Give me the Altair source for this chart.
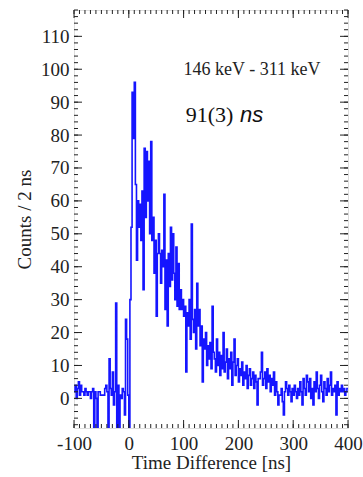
import altair as alt
import pandas as pd

# Time-difference histogram, 2 ns bins from -100 ns to 400 ns
bin_width = 2
t_start = -100
counts = [
    # -100 .. -2 ns
    2, 4, 0, 3, 5, 1, 4, 2, 2, 1,
    3, 2, 1, 2, 2, 0, 2, 3, -10, 2,
    0, -10, 2, 2, 1, 1, 1, 1, 3, 4,
    2, -10, 12, 3, 1, 8, -2, 2, 29, -10,
    4, -10, 1, 0, 3, 2, -5, 24, 18, 1,
    # 0 .. 398 ns
    -10, 30, 52, 93, 79, 96, 65, 42, 60, 52,
    59, 48, 63, 33, 76, 55, 75, 60, 72, 50,
    78, 48, 55, 38, 48, 25, 44, 50, 44, 35,
    45, 40, 62, 27, 42, 22, 44, 34, 52, 36,
    50, 38, 30, 46, 28, 41, 27, 33, 27, 30,
    25, 28, 8, 26, 22, 30, 18, 53, 24, 20,
    27, 15, 35, 22, 27, 16, 22, 5, 18, 15,
    20, 10, 16, 12, 17, 9, 28, 14, 12, 8,
    18, 10, 14, 7, 13, 9, 20, 8, 11, 15,
    6, 12, 9, 14, 4, 11, 18, 7, 10, 12,
    5, 9, 7, 11, 4, 8, 6, 10, 3, 7,
    9, 4, 6, 8, 3, 7, 5, -2, 6, 6,
    8, 14, 4, 6, 8, 3, 9, 5, 7, 2,
    6, 4, 8, 1, 5, 2, -2, 1, 1, 3,
    -1, -5, 2, 5, 3, 1, 4, 2, -1, 3,
    1, 4, 2, 0, 3, 1, 5, 2, -2, 6,
    3, 1, 7, 5, 2, 6, 0, 3, -2, 5,
    2, 8, 3, 0, 4, 7, 2, -1, 5, 3,
    1, 6, 2, 4, 8, 1, 3, 2, 4, -5,
    5, 1, 3, 2, 4, 2, 3, 1, 2, 3,
]

x_major = [-100, 0, 100, 200, 300, 400]
y_major = [0, 10, 20, 30, 40, 50, 60, 70, 80, 90, 100, 110]
x_minor = list(range(-100, 401, 10))
y_minor = list(range(-8, 119, 2))

x_domain = [-100, 400]
y_domain = [-9, 118]

W, H = 274, 418
FONT = "Liberation Serif"
BLUE = "#1515ff"
INK = "#222222"

edges = [t_start + i * bin_width for i in range(len(counts))]
hist = pd.DataFrame({"t": edges + [edges[-1] + bin_width],
                     "c": counts + [counts[-1]]})

xs = alt.Scale(domain=x_domain, nice=False, zero=False)
ys = alt.Scale(domain=y_domain, nice=False, zero=False)

x_axis = alt.Axis(values=x_major, ticks=False, domain=False, grid=False,
                  labelExpr="datum.value + ''",
                  labelFont=FONT, labelFontSize=19, labelColor=INK,
                  labelPadding=6, labelFlush=False,
                  titleFont=FONT, titleFontSize=19, titleFontWeight="normal",
                  titleColor=INK, titleY=40, titleBaseline="alphabetic")
y_axis = alt.Axis(values=y_major, ticks=False, domain=False, grid=False,
                  labelExpr="datum.value + ''",
                  labelFont=FONT, labelFontSize=19, labelColor=INK,
                  labelPadding=5,
                  titleFont=FONT, titleFontSize=19, titleFontWeight="normal",
                  titleColor=INK, titleX=-50, titleY=H / 2,
                  titleAngle=-90, titleAlign="center", titleBaseline="middle")

X_TITLE = "Time Difference [ns]"
Y_TITLE = "Counts / 2 ns"

def xenc():
    return alt.X("t:Q", scale=xs, title=X_TITLE, axis=x_axis)

def yenc():
    return alt.Y("c:Q", scale=ys, title=Y_TITLE, axis=y_axis)

line = alt.Chart(hist).mark_line(
    interpolate="step-after", color=BLUE, strokeWidth=1.6, clip=True
).encode(x=xenc(), y=yenc())

# inward frame ticks on all four sides
def xticks(vals, length):
    d = pd.DataFrame({"t": vals})
    bot = alt.Chart(d).mark_rule(color=INK, strokeWidth=1).encode(
        x=xenc(), y=alt.value(H), y2=alt.value(H - length))
    top = alt.Chart(d).mark_rule(color=INK, strokeWidth=1).encode(
        x=xenc(), y=alt.value(0), y2=alt.value(length))
    return [bot, top]

def yticks(vals, length):
    d = pd.DataFrame({"c": vals})
    lft = alt.Chart(d).mark_rule(color=INK, strokeWidth=1).encode(
        y=yenc(), x=alt.value(0), x2=alt.value(length))
    rgt = alt.Chart(d).mark_rule(color=INK, strokeWidth=1).encode(
        y=yenc(), x=alt.value(W), x2=alt.value(W - length))
    return [lft, rgt]

ticks = xticks(x_minor, 4) + xticks(x_major, 8) + yticks(y_minor, 4) + yticks(y_major, 8)

# annotations
energy = alt.Chart(pd.DataFrame({"t": [225], "c": [99.7], "s": ["146 keV - 311 keV"]})).mark_text(
    font=FONT, fontSize=18, color=INK, align="center", baseline="middle"
).encode(x=xenc(), y=yenc(), text="s:N")

life = alt.Chart(pd.DataFrame({"t": [104], "c": [86], "s": ["91(3)"]})).mark_text(
    font=FONT, fontSize=22, color="#111111", align="left", baseline="middle"
).encode(x=xenc(), y=yenc(), text="s:N")

unit = alt.Chart(pd.DataFrame({"t": [203], "c": [86], "s": ["ns"]})).mark_text(
    font="Liberation Sans", fontStyle="italic", fontSize=22, color="#111111",
    align="left", baseline="middle"
).encode(x=xenc(), y=yenc(), text="s:N")

chart = alt.layer(line, *ticks, energy, life, unit).properties(
    width=W, height=H,
    autosize=alt.AutoSizeParams(type="none"),
    padding={"left": 74, "top": 10, "right": 15, "bottom": 49},
).configure_axis(
    labelFont=FONT, titleFont=FONT
).configure_view(stroke=INK, strokeWidth=1.3).configure(background="white")

chart.save("out.html", embed_options={"renderer": "svg", "actions": False})
